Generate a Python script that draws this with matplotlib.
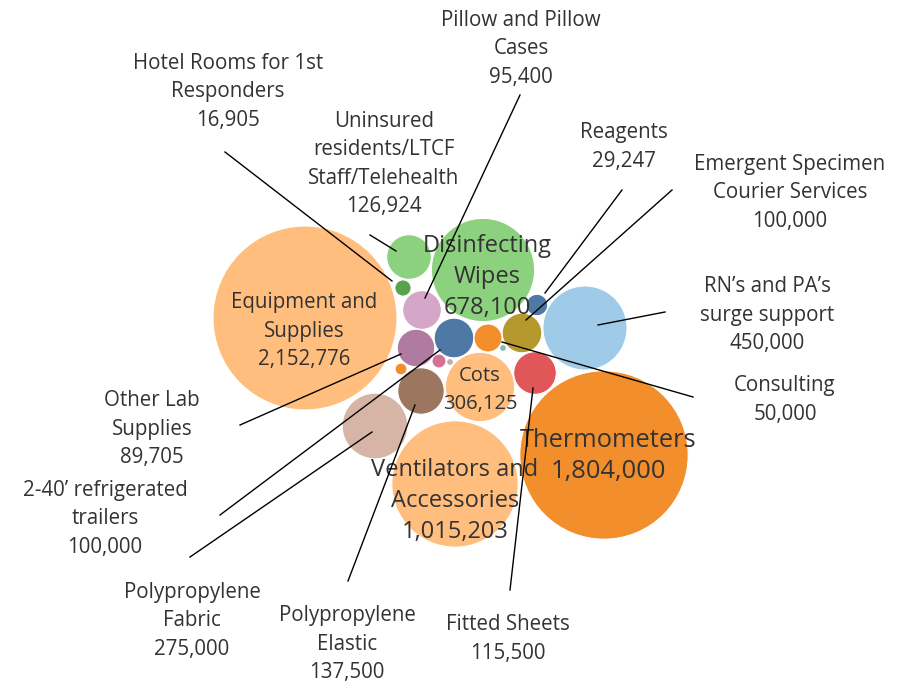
import numpy as np
import matplotlib
matplotlib.use('Agg')
import matplotlib.pyplot as plt
from matplotlib.patches import Circle

# data
names = ['Equipment and Supplies', 'Thermometers', 'Ventilators and Accessories',
         'Disinfecting Wipes', "RN's and PA's surge support", 'Cots',
         'Polypropylene Fabric', 'Uninsured residents/LTCF Staff/Telehealth',
         'Polypropylene Elastic', 'Fitted Sheets', 'Emergent Specimen Courier Services',
         '2-40\u2019 refrigerated trailers', 'Pillow and Pillow Cases', 'Other Lab Supplies',
         'Consulting', 'Reagents', 'Hotel Rooms for 1st Responders',
         'Other A', 'Other B', 'Other C', 'Other D']
values = [2152776, 1804000, 1015203, 678100, 450000, 306125, 275000, 126924,
          137500, 115500, 100000, 100000, 95400, 89705, 50000, 29247, 16905,
          9000, 12500, 3000, 3000]
colors = ['#FFBE7D', '#F28E2B', '#FFBE7D', '#8CD17D', '#A0CBE8', '#FFBE7D',
          '#D7B5A6', '#8CD17D', '#9D7660', '#E15759', '#B6992D', '#4E79A7',
          '#D4A6C8', '#B07AA1', '#F28E2B', '#4E79A7', '#59A14F',
          '#F28E2B', '#D37295', '#BAB0AC', '#86BCB6']

# layout (pixel positions of the packed bubbles)
centers = [(305, 318), (604, 455), (455, 484), (483, 270), (585, 328), (480, 387),
           (375, 426), (409, 257), (421, 391), (535, 373), (522, 333),
           (454, 338), (422, 310), (416, 348), (488, 338), (537, 305), (403, 288),
           (401, 369), (439, 361), (450, 362), (503, 348)]

# labels drawn inside bubbles: text, font size, line spacing
inside = {0: ('Equipment and\nSupplies\n2,152,776', 14.8, 1.46),
          1: ('Thermometers\n1,804,000', 18.4, 1.27),
          2: ('Ventilators and\nAccessories\n1,015,203', 17, 1.41),
          3: ('Disinfecting\nWipes\n678,100', 17, 1.39),
          5: ('Cots\n306,125', 14.5, 1.49)}
inside_pos = {0: (304, 331), 1: (608, 456), 2: (455, 501), 3: (487, 277), 5: (480, 390)}

# labels outside with leader lines: index, text, text position, line start, line end
outside = [(16, 'Hotel Rooms for 1st\nResponders\n16,905', (228, 92), (225, 152), (392, 281)),
           (12, 'Pillow and Pillow\nCases\n95,400', (521, 49), (520, 95), (425, 298)),
           (7, 'Uninsured\nresidents/LTCF\nStaff/Telehealth\n126,924', (384, 164), (370, 235), (396, 251)),
           (15, 'Reagents\n29,247', (624, 147), (622, 190), (545, 293)),
           (10, 'Emergent Specimen\nCourier Services\n100,000', (790, 193), (672, 190), (526, 320)),
           (4, 'RN\u2019s and PA\u2019s\nsurge support\n450,000', (767, 315), (665, 312), (598, 325)),
           (14, 'Consulting\n50,000', (785, 400), (693, 397), (502, 342)),
           (13, 'Other Lab\nSupplies\n89,705', (152, 429), (240, 425), (401, 354)),
           (11, '2-40\u2019 refrigerated\ntrailers\n100,000', (105, 519), (220, 515), (440, 350)),
           (6, 'Polypropylene\nFabric\n275,000', (192, 621), (190, 557), (372, 432)),
           (8, 'Polypropylene\nElastic\n137,500', (347, 644), (348, 581), (415, 405)),
           (9, 'Fitted Sheets\n115,500', (508, 639), (510, 590), (533, 388))]

max_r = 92
radii = max_r * np.sqrt(np.array(values) / max(values))

fig = plt.figure(figsize=(9.09, 6.87), dpi=100)
ax = fig.add_axes([0, 0, 1, 1])
ax.set_xlim(0, 909)
ax.set_ylim(687, 0)
ax.set_aspect('equal')
ax.axis('off')

for c, r, col in zip(centers, radii, colors):
    ax.add_patch(Circle(c, r, facecolor=col, edgecolor='white', linewidth=0.8, zorder=1))

for i, (txt, fs, ls) in inside.items():
    ax.text(*inside_pos[i], txt, ha='center', va='center', fontsize=fs,
            color='#333333', family='Open Sans', linespacing=ls, zorder=3)

for i, txt, tpos, p0, p1 in outside:
    ax.plot([p0[0], p1[0]], [p0[1], p1[1]], color='black', lw=1, zorder=4)
    ax.text(*tpos, txt, ha='center', va='center', fontsize=14.8,
            color='#333333', family='Open Sans', linespacing=1.45, zorder=3)

fig.savefig('out.png', dpi=100)
